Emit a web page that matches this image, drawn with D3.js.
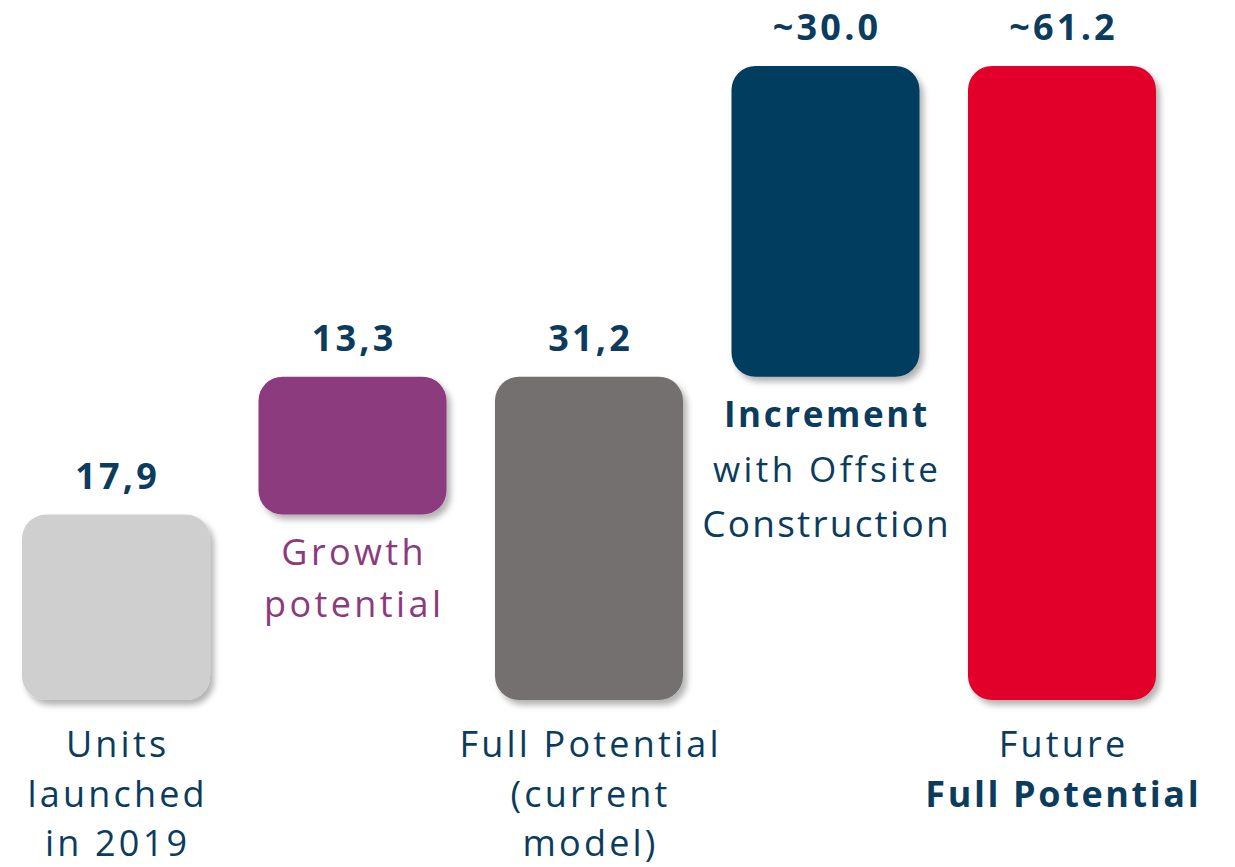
<!DOCTYPE html>
<html>
<head>
<meta charset="utf-8">
<script src="https://cdn.jsdelivr.net/npm/d3@7"></script>
<style>
  html, body { margin: 0; padding: 0; background: #ffffff; }
  svg { display: block; font-family: "Open Sans", "DejaVu Sans", sans-serif; }
</style>
</head>
<body>
<svg id="chart" width="1235" height="867"></svg>
<script>
// Waterfall: units launched, growth, current full potential, offsite increment, future potential
const categories = [
  "Units launched in 2019",
  "Growth potential",
  "Full Potential (current model)",
  "Increment with Offsite Construction",
  "Future Full Potential"
];
const values = [17.9, 13.3, 31.2, 30.0, 61.2];
const barKinds = ["total", "delta", "total", "delta", "total"];
const valueLabels = ["17,9", "13,3", "31,2", "~30.0", "~61.2"];
const labelLines = [
  ["Units", "launched", "in 2019"],
  ["Growth", "potential"],
  ["Full Potential", "(current", "model)"],
  ["Increment", "with Offsite", "Construction"],
  ["Future", "Full Potential"]
];

// Styling
const barColors = ["#d0cfd0", "#8b3a7e", "#75706f", "#023e5f", "#e2002b"];
const navy = "#0b3c5d";
const purple = "#8b3a7e";
// per-bar text colour, emphasised (bold) line and line font sizes
const labelColor = [navy, purple, navy, navy, navy];
const boldLine = [-1, -1, -1, 0, 1];
const lineSizes = [
  [36, 36, 36],
  [36, 36],
  [36, 36, 36],
  [35, 35, 37],
  [36, 36]
];
const lineSpacing = [
  [3.2, 3.2, 3.2],
  [3.4, 3.4],
  [3.2, 3.2, 3.2],
  [2.6, 3.4, 2.2],
  [3.2, 2.6]
];

// Running totals give each bar its start/end
let running = 0;
const bars = values.map((v, i) => {
  let y0, y1;
  if (barKinds[i] === "total") { y0 = 0; y1 = v; running = v; }
  else { y0 = running; y1 = running + v; running = y1; }
  return { i, cat: categories[i], y0, y1 };
});

const svg = d3.select("#chart");

const x = d3.scaleBand()
  .domain(categories)
  .range([22, 1156])
  .paddingInner(0.205)
  .paddingOuter(0);

const y = d3.scaleLinear()
  .domain([0, 61.2])
  .range([700, 66]);

const defs = svg.append("defs");
const f = defs.append("filter").attr("id", "shadow")
  .attr("x", "-10%").attr("y", "-10%").attr("width", "130%").attr("height", "130%");
f.append("feDropShadow")
  .attr("dx", 4).attr("dy", 5).attr("stdDeviation", 3)
  .attr("flood-color", "#000").attr("flood-opacity", 0.3);

svg.append("g").selectAll("rect").data(bars).join("rect")
  .attr("x", d => x(d.cat))
  .attr("width", x.bandwidth())
  .attr("y", d => y(d.y1))
  .attr("height", d => y(d.y0) - y(d.y1))
  .attr("rx", 24).attr("ry", 24)
  .attr("fill", d => barColors[d.i])
  .attr("filter", "url(#shadow)");

// value labels above each bar
const valueSpacing = 3.2;
svg.append("g").selectAll("text").data(bars).join("text")
  .attr("x", d => x(d.cat) + x.bandwidth() / 2)
  .attr("dx", valueSpacing / 2)
  .attr("y", d => y(d.y1) - 26)
  .attr("text-anchor", "middle")
  .attr("font-size", 36)
  .attr("font-weight", 700)
  .attr("letter-spacing", valueSpacing)
  .attr("fill", navy)
  .text(d => valueLabels[d.i]);

// category labels: totals sit under the baseline, deltas under their floating bar
const labels = svg.append("g").selectAll("text").data(bars).join("text")
  .attr("text-anchor", "middle")
  .attr("fill", d => labelColor[d.i]);

labels.each(function (d) {
  const cx = x(d.cat) + x.bandwidth() / 2;
  const isTotal = barKinds[d.i] === "total";
  const top = isTotal ? y(0) + 57 : y(d.y0) + 50;
  const gap = isTotal ? 49.5 : (d.i === 1 ? 52 : 55);
  d3.select(this).selectAll("tspan").data(labelLines[d.i]).join("tspan")
    .attr("x", cx)
    .attr("dx", (t, k) => lineSpacing[d.i][k] / 2)
    .attr("y", (t, k) => top + k * gap)
    .attr("font-size", (t, k) => lineSizes[d.i][k])
    .attr("font-weight", (t, k) => boldLine[d.i] === k ? 700 : 400)
    .attr("letter-spacing", (t, k) => lineSpacing[d.i][k])
    .text(t => t);
});
</script>
</body>
</html>
